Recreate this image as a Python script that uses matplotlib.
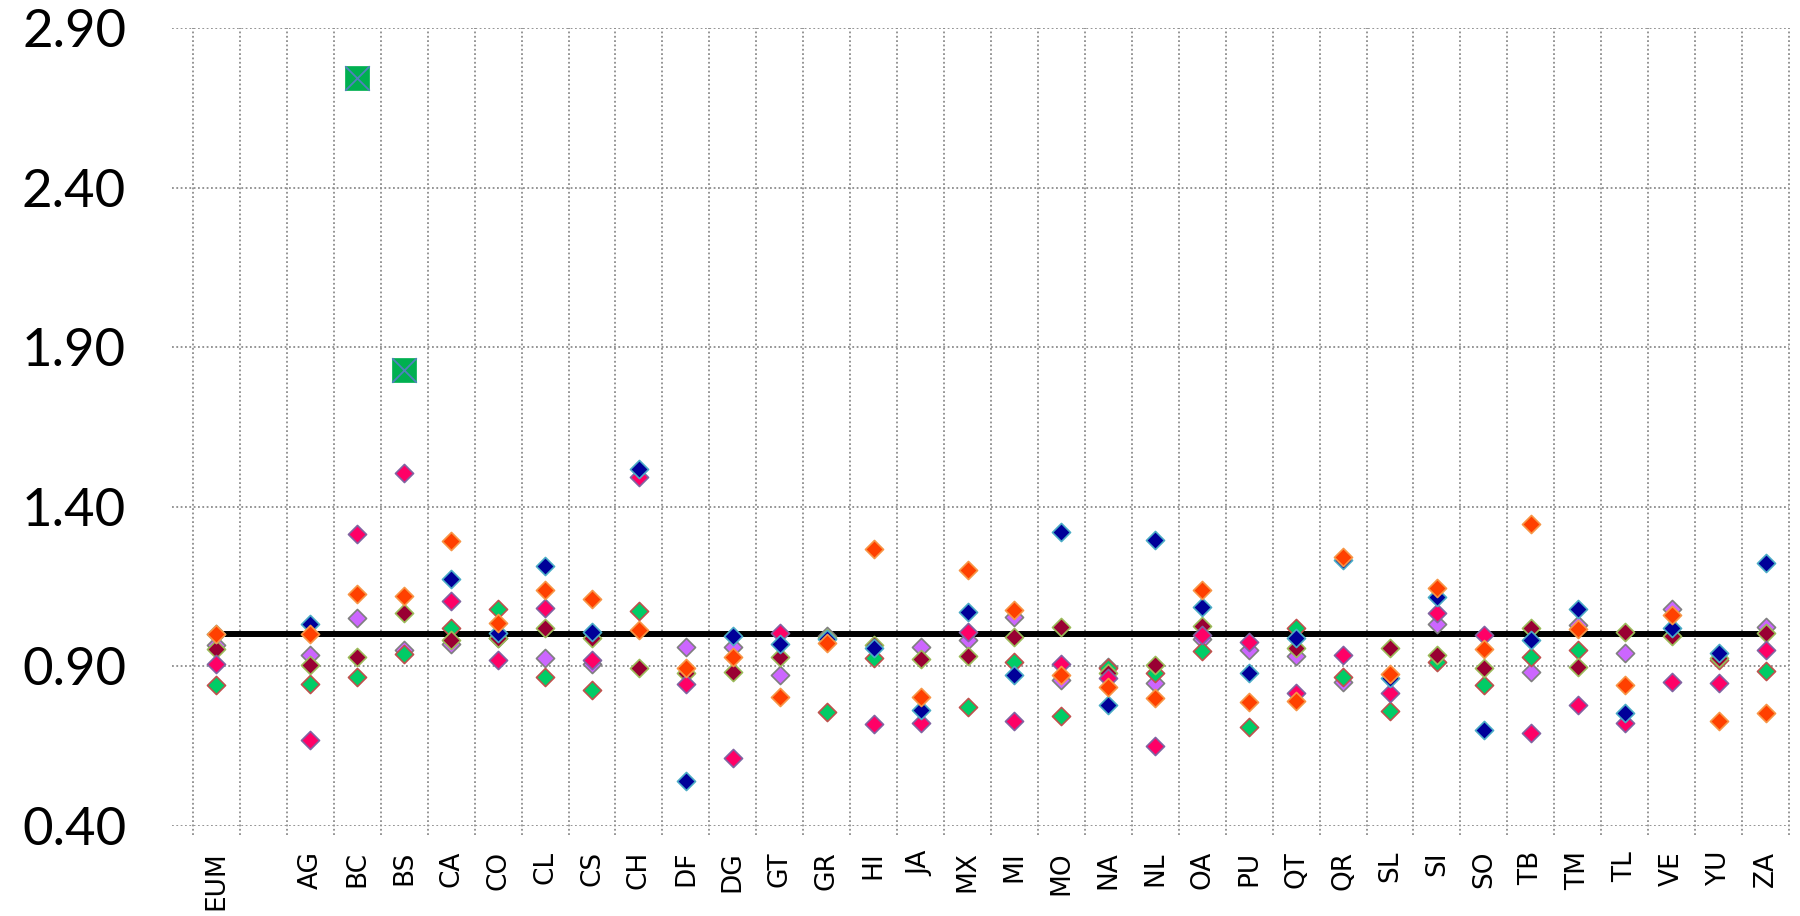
import numpy as np
import matplotlib.pyplot as plt

nan = np.nan

states = ['EUM', '', 'AG', 'BC', 'BS', 'CA', 'CO', 'CL', 'CS', 'CH', 'DF', 'DG',
          'GT', 'GR', 'HI', 'JA', 'MX', 'MI', 'MO', 'NA', 'NL', 'OA', 'PU', 'QT',
          'QR', 'SL', 'SI', 'SO', 'TB', 'TM', 'TL', 'VE', 'YU', 'ZA']

# series values (nan = not shown)
purple = [0.967, nan, 0.936, 1.053, 0.951, 0.970, 0.990, 0.925, 0.907, nan, 0.962, 0.962,
          0.873, 0.995, nan, 0.962, 0.983, 1.054, 0.857, 0.899, 0.847, 0.985, 0.951, 0.933,
          0.852, nan, 1.033, nan, 0.883, 1.030, 0.941, 1.079, nan, 1.024]
green = [0.841, nan, 0.844, 0.868, 0.938, 1.019, 1.079, 0.868, 0.826, 1.074, nan, nan,
         nan, 0.756, 0.925, nan, 0.774, 0.915, 0.745, 0.894, 0.878, 0.949, 0.711, 1.019,
         0.868, 0.760, 0.915, 0.842, 0.930, 0.951, nan, nan, 0.920, 0.886]
maroon = [0.953, nan, 0.904, 0.930, 1.068, 0.983, 0.988, 1.019, 0.988, 0.894, 0.878, 0.881,
          0.930, 0.990, 0.967, 0.923, 0.933, 0.993, 1.024, 0.878, 0.904, 1.027, nan, 0.957,
          nan, 0.959, 0.936, 0.894, 1.019, 0.899, 1.007, 0.995, 0.925, 1.004]
pink = [0.906, nan, 0.669, 1.316, 1.507, 1.105, 0.920, 1.082, 0.920, 1.494, 0.845, 0.614,
        1.004, nan, 0.718, 0.722, 1.009, 0.730, 0.908, 0.863, 0.652, 0.998, 0.977, 0.818,
        0.936, 0.816, 1.066, 0.998, 0.690, 0.779, 0.722, 0.852, 0.847, 0.951]
navy = [1.000, nan, 1.032, nan, nan, 1.174, 1.004, 1.216, 1.009, 1.517, 0.541, 0.995,
        0.970, 0.985, 0.959, 0.763, 1.071, 0.872, 1.320, 0.779, 1.296, 1.087, 0.878, 0.990,
        1.233, 0.863, 1.118, 0.701, 0.983, 1.079, 0.755, 1.019, 0.943, 1.223]
orange = [1.000, nan, 1.000, 1.126, 1.121, 1.292, 1.037, 1.139, 1.110, 1.014, 0.896, 0.930,
          0.805, 0.972, 1.267, 0.803, 1.202, 1.077, 0.873, 0.837, 0.800, 1.139, 0.790, 0.793,
          1.244, 0.876, 1.145, 0.953, 1.345, 1.016, 0.842, 1.061, 0.730, 0.753]
outliers = [nan, nan, nan, 2.743, 1.829] + [nan] * 29
reference = [1.0] * len(states)

yticks = [0.40, 0.90, 1.40, 1.90, 2.40, 2.90]

series = [
    (purple, '#cc66ff', '#7f7f7f'),
    (green, '#00cc66', '#c0504d'),
    (maroon, '#990033', '#9bbb59'),
    (pink, '#ff0066', '#8064a2'),
    (navy, '#000099', '#4bacc6'),
    (orange, '#ff4000', '#f79646'),
]

x = np.arange(len(states))

fig = plt.figure(figsize=(18, 9.16), dpi=100)
ax = fig.add_axes([172 / 1800, 90 / 916, (1789 - 172) / 1800, (826 - 28) / 916])

ax.set_xlim(-0.5 - 21 / 46.94, len(states) - 0.5)
ax.set_ylim(0.40, 2.90)

grid_kw = dict(color='#8c8c8c', linewidth=1.3, linestyle=(0, (1, 1.4)))
for yv in yticks:
    ax.axhline(yv, zorder=1, **grid_kw)
ax.vlines(np.arange(len(states) + 1) - 0.5, 0.40 - 9 / 319.2, 2.90,
          clip_on=False, zorder=1, **grid_kw)

ax.plot(x, reference, color='black', linewidth=4.3, solid_capstyle='butt', zorder=2)

for i, (vals, fc, ec) in enumerate(series):
    ax.scatter(x, vals, marker='D', s=85, facecolor=fc, edgecolor=ec,
               linewidths=1.2, zorder=3 + i)

ax.scatter(x, outliers, marker='s', s=310, facecolor='#00b050', edgecolor='#00b050',
           linewidths=0.5, zorder=10)
ax.scatter(x, outliers, marker='x', s=310, color='#4f81bd', linewidths=1.3, zorder=11)

for s in ax.spines.values():
    s.set_visible(False)

ax.set_yticks(yticks)
ax.set_yticklabels([f'{v:.2f}' for v in yticks], fontsize=38, family='Lato')
ax.tick_params(axis='y', length=0, pad=33)

ax.set_xticks(x)
ax.set_xticklabels(states, rotation=90, fontsize=19, family='DejaVu Sans')
ax.tick_params(axis='x', length=0, pad=18)

fig.savefig('out.png', dpi=100)
